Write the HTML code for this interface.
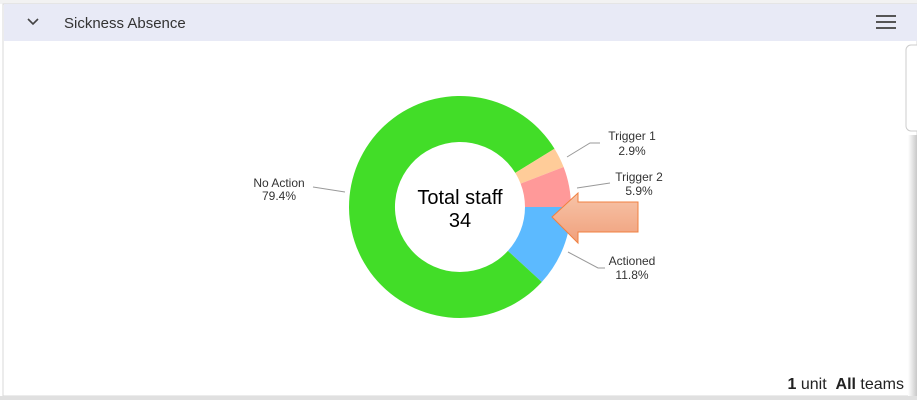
<!DOCTYPE html>
<html><head><style>
body{margin:0;width:917px;height:400px;overflow:hidden;background:#fff;font-family:"Liberation Sans",sans-serif;}
</style></head><body>
<svg width="917" height="400" xmlns="http://www.w3.org/2000/svg" style="position:absolute;left:0;top:0">
<defs>
<linearGradient id="ag" x1="0" y1="0" x2="0" y2="1"><stop offset="0" stop-color="#f7c4a8"/><stop offset="1" stop-color="#f0a07c"/></linearGradient>
<linearGradient id="sh" x1="0" y1="0" x2="1" y2="0"><stop offset="0" stop-color="#fff"/><stop offset="1" stop-color="#c8c8c8"/></linearGradient>
</defs>
<rect x="0" y="0" width="917" height="4" fill="#f2f2f2"/>
<rect x="3" y="4" width="914" height="392" fill="#fff" stroke="#d8d8d8"/>
<rect x="4" y="4" width="913" height="37" fill="#e8eaf6"/>
<path d="M28 19 L33 24 L38 19" fill="none" stroke="#444" stroke-width="1.6"/>
<text x="64" y="28" font-size="15" fill="#333">Sickness Absence</text>
<rect x="876" y="15" width="20" height="2" fill="#555"/><rect x="876" y="21" width="20" height="2" fill="#555"/><rect x="876" y="27" width="20" height="2" fill="#555"/>
<rect x="906" y="45" width="20" height="86" rx="5" fill="#fff" stroke="#ccc"/>
<rect x="908" y="135" width="9" height="261" fill="url(#sh)"/>
<rect x="0" y="396" width="917" height="4" fill="#e0e0e0"/>
<path d="M571 207 A111 111 0 0 1 541.8 282 L507.9 250.9 A65 65 0 0 0 525 207 Z" fill="#5cbaff"/>
<path d="M541.8 282 A111 111 0 1 1 554.5 148.7 L515.3 172.9 A65 65 0 1 0 507.9 250.9 Z" fill="#42dd28"/>
<path d="M554.5 148.7 A111 111 0 0 1 563.6 167 L520.6 183.6 A65 65 0 0 0 515.3 172.9 Z" fill="#ffcc99"/>
<path d="M563.6 167 A111 111 0 0 1 571 207 L525 207 A65 65 0 0 0 520.6 183.6 Z" fill="#ff9999"/>
<text x="460" y="204" font-size="20" text-anchor="middle" fill="#000">Total staff</text>
<text x="460" y="227" font-size="20" text-anchor="middle" fill="#000">34</text>
<g fill="none" stroke="#999" stroke-width="1">
<path d="M313 187 L345 192"/><path d="M567 157 L590 143 L600 143"/><path d="M577 188 L610 183"/><path d="M568 252 L598 268 L605 268"/>
</g>
<g font-size="12" fill="#333" text-anchor="middle">
<text x="279" y="187">No Action</text><text x="279" y="200">79.4%</text>
<text x="632" y="140">Trigger 1</text><text x="632" y="155">2.9%</text>
<text x="639" y="181">Trigger 2</text><text x="639" y="195">5.9%</text>
<text x="632" y="265">Actioned</text><text x="632" y="279">11.8%</text>
</g>
<path d="M552 217 L578 193 L578 202 L638 202 L638 232 L578 232 L578 243 Z" fill="url(#ag)" stroke="#f08040" stroke-width="1"/>
<text x="904" y="389" font-size="16" text-anchor="end" fill="#222" xml:space="preserve"><tspan font-weight="bold">1</tspan> unit  <tspan font-weight="bold">All</tspan> teams</text>
</svg>
</body></html>
